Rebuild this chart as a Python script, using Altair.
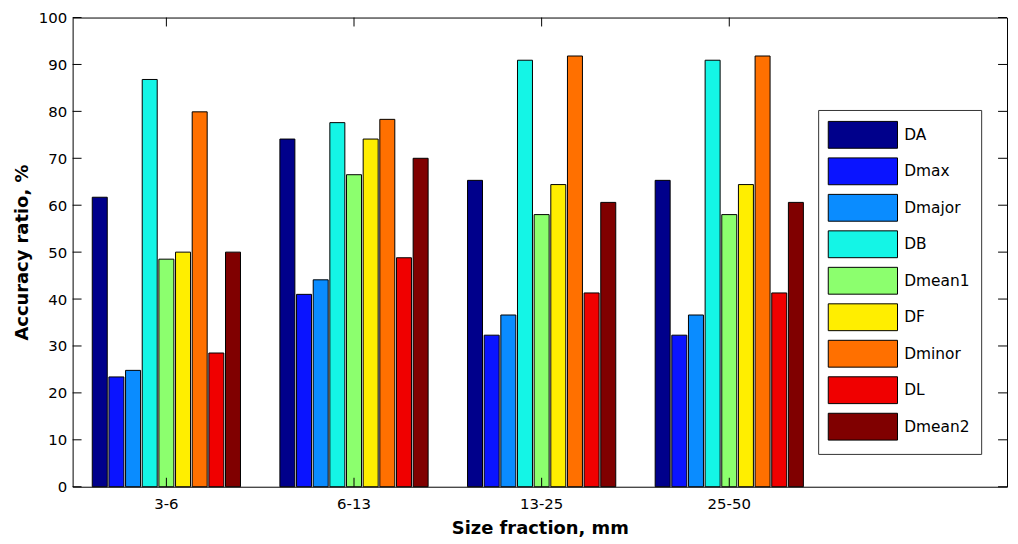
import altair as alt
import pandas as pd

groups = ["3-6", "6-13", "13-25", "25-50"]
series = ["DA", "Dmax", "Dmajor", "DB", "Dmean1", "DF", "Dminor", "DL", "Dmean2"]
colors = ["#00008B", "#0A14FF", "#0A8CFF", "#14F5E6", "#8CFF6E",
          "#FFEE00", "#FF7000", "#F00000", "#800000"]

vals_3_6 = [61.7, 23.4, 24.8, 86.8, 48.5, 50.0, 79.9, 28.5, 50.0]
vals_6_13 = [74.1, 41.0, 44.1, 77.6, 66.5, 74.1, 78.3, 48.8, 70.0]
vals_13_25 = [65.3, 32.3, 36.6, 90.9, 58.0, 64.4, 91.8, 41.3, 60.6]
vals_25_50 = [65.3, 32.3, 36.6, 90.9, 58.0, 64.4, 91.8, 41.3, 60.6]

y_ticks = [0, 10, 20, 30, 40, 50, 60, 70, 80, 90, 100]

all_vals = [vals_3_6, vals_6_13, vals_13_25, vals_25_50]
rows = []
for g, vs in zip(groups, all_vals):
    for s, v in zip(series, vs):
        rows.append({"group": g, "series": s, "value": v})
df = pd.DataFrame(rows)
df_y = pd.DataFrame({"v": y_ticks})
df_x = pd.DataFrame({"group": groups})

W, H = 940, 472
TL = 9
XT = "Size fraction, mm"
YT = "Accuracy ratio, %"
FONT = "DejaVu Sans"
NBSP = "\u00a0" * 3

xscale = alt.Scale(domain=groups, paddingInner=0.21, paddingOuter=0.595, align=0.088)
yscale = alt.Scale(domain=[0, 100], nice=False)

xaxis = alt.Axis(title=XT, labelFont=FONT, labelFontSize=15, labelColor="black",
                 labelPadding=10, ticks=False, domain=False, grid=False, labelAngle=0,
                 titleFont=FONT, titleFontSize=18, titleFontWeight="bold",
                 titleColor="black", titlePadding=8)
yaxis = alt.Axis(title=YT, values=y_ticks, labelFont=FONT, labelFontSize=15,
                 labelColor="black", labelPadding=6, ticks=False, domain=False,
                 grid=False, titleFont=FONT, titleFontSize=18, titleFontWeight="bold",
                 titleColor="black", titlePadding=7)

bars = alt.Chart(df).mark_bar(stroke="black", strokeWidth=1, opacity=1).encode(
    x=alt.X("group:N", scale=xscale, axis=xaxis, title=XT),
    xOffset=alt.XOffset("series:N", sort=series,
                        scale=alt.Scale(domain=series, paddingInner=0.1)),
    y=alt.Y("value:Q", scale=yscale, axis=yaxis, title=YT),
    color=alt.Color("series:N", sort=series,
                    scale=alt.Scale(domain=series, range=colors),
                    legend=alt.Legend(
                        orient="none", legendX=750, legendY=93, title=None,
                        symbolType="M-2.58,-1L2.58,-1L2.58,1L-2.58,1Z",
                        symbolSize=729, symbolOffset=20,
                        symbolStrokeColor="black",
                        symbolStrokeWidth=1, symbolOpacity=1,
                        labelFont=FONT, labelFontSize=15.5, labelColor="black",
                        labelOffset=27.6, rowPadding=4.7, padding=11,
                        labelExpr="datum.label + '" + NBSP + "'",
                        strokeColor="#333333", fillColor="white")),
)

ytick_left = alt.Chart(df_y).mark_rule(color="black", strokeWidth=1).encode(
    y=alt.Y("v:Q", scale=yscale, title=YT), x=alt.value(0), x2=alt.value(TL))
ytick_right = alt.Chart(df_y).mark_rule(color="black", strokeWidth=1).encode(
    y=alt.Y("v:Q", scale=yscale, title=YT), x=alt.value(W - TL), x2=alt.value(W))
xtick_top = alt.Chart(df_x).mark_rule(color="black", strokeWidth=1).encode(
    x=alt.X("group:N", scale=alt.Scale(domain=groups), title=XT, bandPosition=0.5),
    y=alt.value(0), y2=alt.value(TL))
xtick_bot = alt.Chart(df_x).mark_rule(color="black", strokeWidth=1).encode(
    x=alt.X("group:N", scale=alt.Scale(domain=groups), title=XT, bandPosition=0.5),
    y=alt.value(H - TL), y2=alt.value(H))

chart = alt.layer(bars, ytick_left, ytick_right, xtick_top, xtick_bot).properties(
    width=W, height=H,
    autosize=alt.AutoSizeParams(type="none"),
    padding={"left": 65, "top": 8, "right": 3, "bottom": 52},
    background="white",
).configure_view(stroke="black", strokeWidth=1)

chart.save("out.html", embed_options={"renderer": "svg", "actions": False})
